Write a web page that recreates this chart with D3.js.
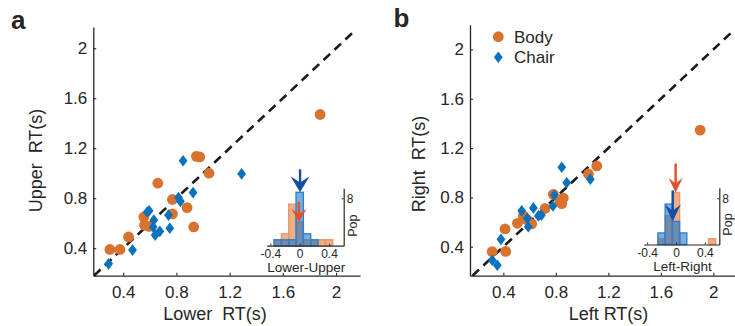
<!DOCTYPE html>
<html>
<head>
<meta charset="utf-8">
<script src="https://cdn.jsdelivr.net/npm/d3@7"></script>
<style>
  html, body { margin: 0; padding: 0; background: #fff; }
  svg { display: block; font-family: "Liberation Sans", Arial, sans-serif; }
  text { white-space: pre; fill: #262626; }
</style>
</head>
<body>
<svg id="chart" width="735" height="326"></svg>
<script>
// ---------- data ----------
const axisTicks = [0.4, 0.8, 1.2, 1.6, 2];
const axisTickLabels = ["0.4", "0.8", "1.2", "1.6", "2"];

// Panel a: Lower RT (x) vs Upper RT (y)
const bodyA_x  = [0.30, 0.375, 0.44, 0.555, 0.56, 0.595, 0.66, 0.77, 0.77, 0.88, 0.93, 0.95, 0.975, 1.045, 1.88];
const bodyA_y  = [0.39, 0.39, 0.49, 0.65, 0.585, 0.575, 0.92, 0.79, 0.675, 0.725, 0.57, 1.135, 1.13, 1.00, 1.47];
const chairA_x = [0.29, 0.47, 0.58, 0.595, 0.63, 0.625, 0.64, 0.675, 0.74, 0.75, 0.815, 0.83, 0.85, 0.925, 1.29];
const chairA_y = [0.275, 0.385, 0.69, 0.70, 0.625, 0.57, 0.505, 0.535, 0.665, 0.56, 0.805, 0.775, 1.10, 0.845, 0.995];

// Panel b: Left RT (x) vs Right RT (y)
const bodyB_x  = [0.315, 0.413, 0.418, 0.507, 0.552, 0.58, 0.616, 0.718, 0.781, 0.832, 0.845, 0.857, 1.048, 1.112, 1.899];
const bodyB_y  = [0.36, 0.544, 0.362, 0.59, 0.65, 0.62, 0.585, 0.71, 0.825, 0.765, 0.75, 0.795, 0.99, 1.055, 1.346];
const chairB_x = [0.316, 0.354, 0.382, 0.54, 0.583, 0.59, 0.629, 0.667, 0.69, 0.778, 0.789, 0.845, 0.883, 1.063];
const chairB_y = [0.29, 0.25, 0.46, 0.692, 0.63, 0.562, 0.715, 0.65, 0.655, 0.73, 0.82, 1.045, 0.919, 0.948];

// Inset histograms (difference, bin width 0.1)
const binCenters = [-0.3, -0.2, -0.1, 0, 0.1, 0.2, 0.3, 0.4, 0.5];
const histA_body  = [1, 2, 7, 4, 1, 1, 1, 1, 0];
const histA_chair = [1, 1, 1, 9, 2, 1, 0, 0, 0];
const histB_body  = [0, 1, 5, 9, 0, 0, 0, 0, 1];
const histB_chair = [0, 2, 7, 4, 2, 0, 0, 0, 0];
const histTicks = [-0.4, 0, 0.4];
const histTickLabels = ["-0.4", "0", "0.4"];
const popTicks = [8];

// Mean differences (arrows)
const meanA = { body: -0.01, chair: 0.005 };
const meanB = { body: -0.005, chair: -0.045 };

const seriesNames = ["Body", "Chair"];
const diagEnd = 2.15;

// ---------- styles ----------
const C_AX = "#262626";
const C_BODY = "#D9722F";
const C_CHAIR = "#0A72BC";
const C_BODY_ARROW = "#E0502A";
const C_CHAIR_ARROW = "#124FA4";
const DIAMOND = "M0,-5.8L4.4,0L0,5.8L-4.4,0Z";

const svg = d3.select("#chart");

function drawPanel(cfg) {
  const g = svg.append("g");
  const x = d3.scaleLinear().domain(cfg.xDomain).range(cfg.xRange);
  const y = d3.scaleLinear().domain(cfg.yDomain).range(cfg.yRange);

  // axes
  const xAxis = d3.axisBottom(x).tickValues(axisTicks)
    .tickFormat((d, i) => axisTickLabels[i]).tickSizeInner(-3).tickSizeOuter(0).tickPadding(10.5);
  const yAxis = d3.axisLeft(y).tickValues(axisTicks)
    .tickFormat((d, i) => axisTickLabels[i]).tickSizeInner(-3).tickSizeOuter(0).tickPadding(6);

  const gx = g.append("g").attr("transform", `translate(0,${cfg.yRange[0]})`).call(xAxis);
  const gy = g.append("g").attr("transform", `translate(${cfg.xRange[0]},0)`).call(yAxis);
  [gx, gy].forEach(a => {
    a.select(".domain").attr("stroke", C_AX).attr("stroke-width", 1.3);
    a.selectAll(".tick line").attr("stroke", C_AX).attr("stroke-width", 1.1);
    a.selectAll(".tick text").attr("fill", C_AX).style("font-size", "17px")
      .style("font-family", '"Liberation Sans", Arial, sans-serif');
  });

  // diagonal
  const lo = Math.max(cfg.xDomain[0], cfg.yDomain[0]);
  g.append("line")
    .attr("x1", x(lo)).attr("y1", y(lo))
    .attr("x2", x(diagEnd)).attr("y2", y(diagEnd))
    .attr("stroke", "#1a1a1a").attr("stroke-width", 2.6)
    .attr("stroke-dasharray", "9,6");

  // body circles
  g.append("g").selectAll("circle").data(cfg.bx.map((v, i) => [v, cfg.by[i]]))
    .join("circle")
    .attr("cx", d => x(d[0])).attr("cy", d => y(d[1])).attr("r", 5.4)
    .attr("fill", C_BODY);

  // chair diamonds
  g.append("g").selectAll("path").data(cfg.cx.map((v, i) => [v, cfg.cy[i]]))
    .join("path")
    .attr("d", DIAMOND)
    .attr("transform", d => `translate(${x(d[0])},${y(d[1])})`)
    .attr("fill", C_CHAIR);

  // labels
  g.append("text").attr("x", cfg.xLabelPos[0]).attr("y", cfg.xLabelPos[1])
    .attr("text-anchor", "middle").style("font-size", "18px").text(cfg.xLabel);
  g.append("text")
    .attr("transform", `translate(${cfg.yLabelPos[0]},${cfg.yLabelPos[1]}) rotate(-90)`)
    .attr("text-anchor", "middle").style("font-size", "18px").text(cfg.yLabel);
  g.append("text").attr("x", cfg.letterPos[0]).attr("y", cfg.letterPos[1])
    .style("font-size", "26px").style("font-weight", "bold").attr("fill", "#111").text(cfg.letter);

  // inset histogram
  const h = cfg.hist;
  const hx = d3.scaleLinear().domain([-0.45, 0.6]).range(h.xRange);
  const hy = d3.scaleLinear().domain(h.yDomain).range(h.yRange);
  const gh = g.append("g");
  const bw = 0.1;
  const drawBars = (counts, fill, stroke) => {
    gh.append("g").selectAll("rect")
      .data(binCenters.map((c, i) => [c, counts[i]]).filter(d => d[1] > 0))
      .join("rect")
      .attr("x", d => hx(d[0] - bw / 2)).attr("width", d => hx(d[0] + bw / 2) - hx(d[0] - bw / 2))
      .attr("y", d => hy(d[1])).attr("height", d => hy(0) - hy(d[1]))
      .attr("fill", fill.c).attr("fill-opacity", fill.o)
      .attr("stroke", stroke).attr("stroke-width", 1.4);
  };
  drawBars(h.body, { c: "#E57A35", o: 0.6 }, "#EA9A66");
  drawBars(h.chair, { c: "#0F6CC6", o: 0.55 }, "#2F80CC");

  const hxAxis = d3.axisBottom(hx).tickValues(histTicks)
    .tickFormat((d, i) => histTickLabels[i]).tickSizeInner(-2).tickSizeOuter(0).tickPadding(4);
  const ghx = gh.append("g").attr("transform", `translate(0,${h.yRange[0]})`).call(hxAxis);
  const hyAxis = d3.axisRight(hy).tickValues(popTicks).tickFormat(d3.format("d"))
    .tickSizeInner(-2).tickSizeOuter(0).tickPadding(3);
  const ghy = gh.append("g").attr("transform", `translate(${h.xRange[1]},0)`).call(hyAxis);
  [ghx, ghy].forEach(a => {
    a.select(".domain").attr("stroke", C_AX).attr("stroke-width", 1.2);
    a.selectAll(".tick line").attr("stroke", C_AX);
    a.selectAll(".tick text").attr("fill", C_AX).style("font-size", "12px")
      .style("font-family", '"Liberation Sans", Arial, sans-serif');
  });
  gh.append("text").attr("x", (h.xRange[0] + h.xRange[1]) / 2 + 1).attr("y", h.yRange[0] + 26)
    .attr("text-anchor", "middle").style("font-size", "13.5px").text(h.label);
  gh.append("text")
    .attr("transform", `translate(${h.xRange[1] + 13},${h.yRange[0] - 20}) rotate(-90)`)
    .attr("text-anchor", "middle").style("font-size", "12.5px").text("Pop");

  // arrows
  const arrow = (mean, count, len, head, w, color) => {
    const ax = hx(mean), tip = hy(count);
    gh.append("line").attr("x1", ax).attr("x2", ax)
      .attr("y1", tip - len).attr("y2", tip - head * 0.5)
      .attr("stroke", color).attr("stroke-width", 2.4);
    gh.append("path")
      .attr("d", `M${ax - w / 2},${tip - head}L${ax},${tip - head * 0.62}L${ax + w / 2},${tip - head}L${ax},${tip}Z`)
      .attr("fill", color);
  };
  const binOf = m => binCenters.findIndex(c => Math.abs(m - c) <= bw / 2 + 1e-9);
  h.arrows.forEach(a => arrow(a.mean, a.counts[binOf(a.mean)], a.len, a.head, a.w, a.color));

  return { x, y };
}

drawPanel({
  xDomain: [0.175, 2.18], xRange: [93.3, 360],
  yDomain: [0.18, 2.17], yRange: [275.7, 27],
  bx: bodyA_x, by: bodyA_y, cx: chairA_x, cy: chairA_y,
  xLabel: "Lower  RT(s)", xLabelPos: [215, 319.5],
  yLabel: "Upper  RT(s)", yLabelPos: [42, 160.5],
  letter: "a", letterPos: [11, 28.5],
  hist: {
    xRange: [266.7, 343.7], yDomain: [0, 9.68], yRange: [245.7, 188.3],
    body: histA_body, chair: histA_chair, label: "Lower-Upper",
    arrows: [
      { mean: meanA.chair, counts: histA_chair, len: 23, head: 16, w: 19, color: C_CHAIR_ARROW },
      { mean: meanA.body, counts: histA_body, len: 20, head: 13, w: 15, color: C_BODY_ARROW }
    ]
  }
});

drawPanel({
  xDomain: [0.146, 2.2], xRange: [470, 739.6],
  yDomain: [0.165, 2.2], yRange: [275.7, 24.8],
  bx: bodyB_x, by: bodyB_y, cx: chairB_x, cy: chairB_y,
  xLabel: "Left RT(s)", xLabelPos: [608.5, 319.5],
  yLabel: "Right  RT(s)", yLabelPos: [425, 164],
  letter: "b", letterPos: [393.5, 26.5],
  hist: {
    xRange: [643.5, 719.3], yDomain: [0, 9.83], yRange: [244.5, 187.7],
    body: histB_body, chair: histB_chair, label: "Left-Right",
    arrows: [
      { mean: meanB.body, counts: histB_body, len: 29, head: 14.5, w: 14, color: C_BODY_ARROW },
      { mean: meanB.chair, counts: histB_chair, len: 31, head: 17, w: 16, color: C_CHAIR_ARROW }
    ]
  }
});

// legend (panel b)
const lg = svg.append("g");
lg.append("circle").attr("cx", 498.3).attr("cy", 36.7).attr("r", 5.4).attr("fill", C_BODY);
lg.append("path").attr("d", DIAMOND)
  .attr("transform", "translate(498.3,57.3)").attr("fill", C_CHAIR);
lg.selectAll("text.leg").data(seriesNames).join("text").attr("class", "leg")
  .attr("x", 514).attr("y", (d, i) => 42.8 + i * 20.6)
  .style("font-size", "17px").text(d => d);
</script>
</body>
</html>
